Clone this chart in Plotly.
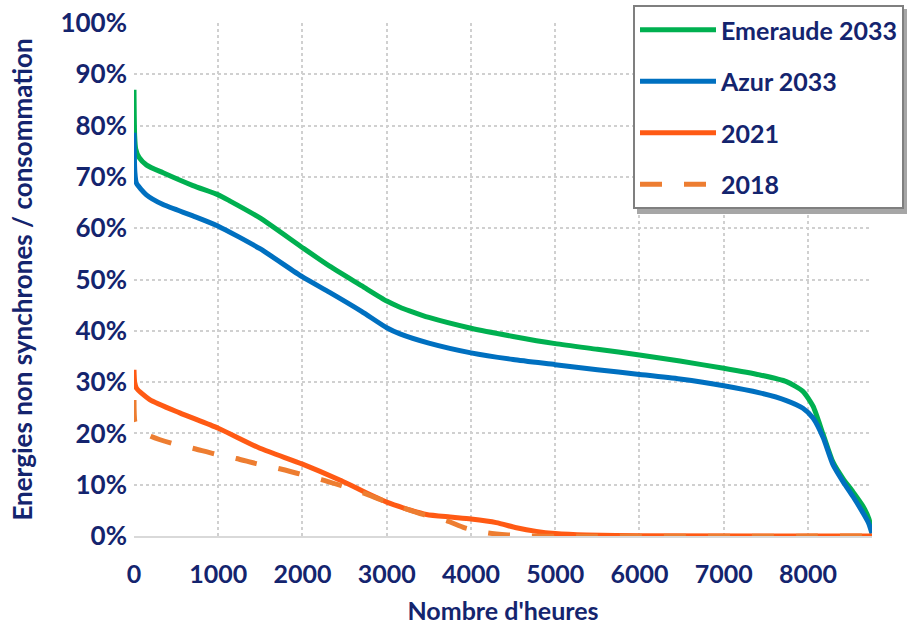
import plotly.graph_objects as go

# ---- data (hours sorted by decreasing share, % of consumption) ----
emeraude_h = [0, 8, 20, 60, 150, 345, 700, 1000, 1138, 1495, 2000, 2322, 2700, 3000, 3157, 3270, 3500, 4000, 4500, 5000,
              5500, 6000, 6480, 7000, 7428, 7744, 7940, 8060, 8180, 8297, 8416, 8534, 8653, 8720, 8760]
emeraude_v = [87, 78, 75.5, 73.8, 72.3, 70.8, 68.3, 66.5, 65.3, 62.0, 56.2, 52.6, 48.8, 45.8, 44.6, 43.9, 42.6, 40.5, 38.9, 37.5,
              36.4, 35.3, 34.1, 32.7, 31.4, 30.1, 28.2, 25.3, 19.8, 14.4, 11.2, 8.6, 5.8, 3.5, 1.0]

azur_h = [0, 10, 28, 147, 345, 700, 1000, 1495, 2000, 2322, 2700, 3000, 3157, 3500, 4000, 4500, 5000, 5500, 6000, 6480,
          7000, 7428, 7744, 7940, 8060, 8180, 8297, 8416, 8534, 8653, 8720, 8760]
azur_v = [78.6, 71, 68.8, 66.5, 64.6, 62.4, 60.4, 56.0, 50.5, 47.5, 43.8, 40.6, 39.4, 37.6, 35.7, 34.4, 33.4, 32.4, 31.5, 30.6,
          29.3, 27.9, 26.4, 24.9, 23.0, 19.2, 13.9, 10.6, 7.7, 4.5, 2.5, 0.5]

y2021_h = [0, 8, 30, 186, 543, 1000, 1495, 2000, 2442, 2877, 3000, 3194, 3471, 3750, 4000, 4300, 4539, 4776, 5000, 5370,
           6000, 8760]
y2021_v = [32.4, 30.0, 28.8, 26.6, 24.0, 21.0, 17.1, 14.0, 10.9, 7.5, 6.6, 5.5, 4.2, 3.7, 3.3, 2.6, 1.6, 0.9, 0.5, 0.2,
           0.05, 0]

y2018_h = [0, 10, 50, 206, 444, 720, 958, 1215, 1453, 1729, 1966, 2224, 2462, 2718, 2956, 3193, 3430, 3708, 3926, 4202,
           4440, 4700, 8760]
y2018_v = [26.5, 22.3, 20.8, 19.4, 18.1, 17.0, 16.0, 15.1, 14.1, 13.1, 12.1, 11.0, 9.8, 8.4, 6.9, 5.5, 4.2, 3.0, 1.6, 0.6,
           0.2, 0, 0]

x_ticks = [0, 1000, 2000, 3000, 4000, 5000, 6000, 7000, 8000]
y_ticks = [0, 10, 20, 30, 40, 50, 60, 70, 80, 90, 100]

NAVY = "#14246E"
FONT = "Lato"

fig = go.Figure()
series = [
    ("Emeraude 2033", emeraude_h, emeraude_v, "#00B050", "solid"),
    ("Azur 2033", azur_h, azur_v, "#0070C0", "solid"),
    ("2021", y2021_h, y2021_v, "#FF5A14", "solid"),
    ("2018", y2018_h, y2018_v, "#ED7D31", "22px,22px"),
]
for i, (name, xs, ys, col, dash) in enumerate(series):
    fig.add_trace(go.Scatter(
        x=xs, y=ys, name=name, mode="lines", line_shape="spline",
        line=dict(color=col, width=5, dash=dash, smoothing=0.6),
        cliponaxis=False, legendgroup=f"g{i}",
    ))

W, H = 909, 625
L, R, T, B = 134, 37, 23, 89
pw, ph = W - L - R, H - T - B

def px2paper(x, y):
    # page pixel -> paper coords
    return (x - L) / pw, (H - B - y) / ph

# legend shadow
sx0, sy0 = px2paper(637, 9)
sx1, sy1 = px2paper(907, 214)
fig.add_shape(type="rect", xref="paper", yref="paper", x0=sx0, y0=sy1, x1=sx1, y1=sy0,
              line=dict(width=0), fillcolor="#A6A6A6", layer="above")

lx, ly = px2paper(633, 5)
fig.update_layout(
    width=W, height=H,
    margin=dict(l=L, r=R, t=T, b=B, autoexpand=False),
    plot_bgcolor="white", paper_bgcolor="white",
    showlegend=True,
    legend=dict(
        x=lx, y=ly, xanchor="left", yanchor="top",
        bgcolor="white", bordercolor="#7F7F7F", borderwidth=2,
        font=dict(family=FONT, size=25, color=NAVY, weight="bold"),
        itemwidth=76, tracegroupgap=16,
    ),
    xaxis=dict(
        range=[0, 8760], tickvals=x_ticks, ticktext=[str(v) for v in x_ticks],
        showgrid=True, gridcolor="#D0D0D0", griddash="dot", gridwidth=2,
        zeroline=False, showline=True, linecolor="#D9D9D9", linewidth=2,
        ticks="", ticklabelstandoff=15, automargin=False,
        tickfont=dict(family=FONT, size=25, color=NAVY, weight="bold"),
        title=dict(text="Nombre d'heures", standoff=19,
                   font=dict(family=FONT, size=25, color=NAVY, weight="bold")),
    ),
    yaxis=dict(
        range=[0, 100], tickvals=y_ticks, ticktext=[f"{v}%" for v in y_ticks],
        showgrid=True, gridcolor="#D0D0D0", griddash="dot", gridwidth=2,
        zeroline=False, showline=False, automargin=False,
        ticks="", ticklabelstandoff=6, ticklabeloverflow="allow",
        tickfont=dict(family=FONT, size=26, color=NAVY, weight="bold"),
        title=dict(text="Energies non synchrones / consommation", standoff=20,
                   font=dict(family=FONT, size=26, color=NAVY, weight="bold")),
    ),
)

# remove the browser's default 8px body margin so the 909x625 figure fills the window
fig.write_html("out.html", config={"displayModeBar": False},
               post_script="document.body.style.margin='0px';")
